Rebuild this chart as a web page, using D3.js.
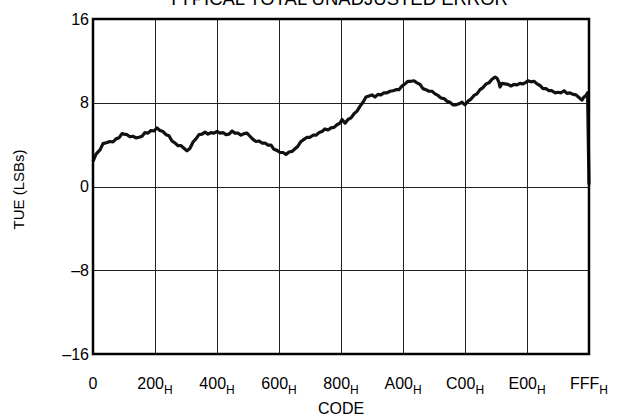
<!DOCTYPE html>
<html>
<head>
<meta charset="utf-8">
<script src="https://cdn.jsdelivr.net/npm/d3@7"></script>
<style>
  html, body { margin: 0; padding: 0; background: #fff; }
  svg { display: block; font-family: "Liberation Sans", Arial, sans-serif; }
</style>
</head>
<body>
<svg id="chart" width="631" height="420"></svg>
<script>
// Code values (decimal) along the transfer function
const codes = [
  0, 25, 58, 83, 116, 140, 165, 190, 215, 239, 256, 281, 305, 330, 355, 380, 405, 429, 454, 479,
  504, 528, 553, 578, 603, 627, 652, 677, 702, 727, 751, 776, 801, 826, 850, 875, 900, 925, 949, 974,
  999, 1024, 1049, 1073, 1098, 1123, 1148, 1172, 1197, 1222, 1247, 1271, 1296, 1321, 1346, 1371, 1395, 1420, 1445, 1470,
  1494, 1519, 1544, 1569, 1593, 1618, 1643, 1668, 1692, 1717, 1742, 1767, 1792, 1816, 1841, 1866, 1891, 1915, 1940, 1965,
  1990, 2014, 2039, 2056, 2081, 2105, 2130, 2155, 2180, 2204, 2229, 2254, 2279, 2303, 2328, 2353, 2378, 2402, 2427, 2452,
  2477, 2502, 2526, 2551, 2576, 2601, 2625, 2650, 2675, 2700, 2724, 2749, 2774, 2799, 2824, 2848, 2873, 2898, 2923, 2947,
  2972, 2997, 3022, 3046, 3071, 3096, 3121, 3146, 3170, 3195, 3220, 3245, 3269, 3294, 3319, 3335, 3352, 3360, 3377, 3401,
  3426, 3451, 3476, 3501, 3525, 3550, 3575, 3591, 3616, 3641, 3666, 3690, 3715, 3740, 3765, 3789, 3814, 3839, 3864, 3889,
  3913, 3938, 3963, 3988, 4012, 4037, 4054, 4070, 4083, 4095
];

// Total unadjusted error at each code (LSBs)
const tue = [
  2.4, 3.1, 3.5, 4.1, 4.2, 4.3, 4.25, 4.55, 4.65, 5.05, 5.0, 4.95, 4.75, 4.8, 4.65, 4.7, 4.8, 5.15, 5.1, 5.35,
  5.3, 5.6, 5.35, 5.25, 4.95, 4.85, 4.35, 4.15, 3.9, 3.9, 3.65, 3.4, 3.65, 4.25, 4.55, 4.95, 5.0, 5.2, 5.0, 5.15,
  5.1, 5.25, 5.1, 5.15, 4.95, 5.0, 5.3, 5.1, 5.1, 4.9, 5.05, 5.1, 4.8, 4.5, 4.3, 4.35, 4.15, 4.15, 3.95, 3.95,
  3.55, 3.45, 3.25, 3.25, 3.05, 3.3, 3.35, 3.6, 3.85, 4.3, 4.5, 4.7, 4.7, 4.9, 4.9, 5.15, 5.25, 5.5, 5.4, 5.6,
  5.65, 5.9, 6.05, 6.4, 6.05, 6.4, 6.55, 6.95, 7.2, 7.65, 8.05, 8.55, 8.65, 8.75, 8.55, 8.8, 8.75, 8.95, 8.95, 9.1,
  9.15, 9.25, 9.25, 9.6, 9.8, 10.05, 10.05, 10.1, 9.9, 9.75, 9.35, 9.25, 9.1, 9.1, 8.85, 8.7, 8.45, 8.4, 8.15, 8.05,
  7.8, 7.8, 7.9, 8.05, 7.8, 8.15, 8.35, 8.7, 8.85, 9.25, 9.45, 9.8, 9.9, 10.25, 10.45, 10.35, 9.95, 9.5, 9.85, 9.8,
  9.75, 9.6, 9.75, 9.7, 9.85, 9.8, 9.95, 10.1, 10.0, 10.05, 9.8, 9.65, 9.35, 9.35, 9.15, 9.15, 8.95, 9.0, 8.95, 9.15,
  8.9, 8.95, 8.8, 8.75, 8.5, 8.25, 8.55, 8.7, 8.95, 0.2
];

// Axis ticks
const xTickValues = [0, 512, 1024, 1536, 2048, 2560, 3072, 3584, 4095];
const xTickLabels = ["0", "200", "400", "600", "800", "A00", "C00", "E00", "FFF"];
const yTickValues = [-16, -8, 0, 8, 16];
const yTickLabels = ["\u201316", "\u20138", "0", "8", "16"];

const titleText = "TYPICAL TOTAL UNADJUSTED ERROR";
const xTitle = "CODE";
const yTitle = "TUE (LSBs)";

const svg = d3.select("#chart");
const m = { left: 93, right: 589, top: 19, bottom: 354 };

const x = d3.scaleLinear().domain([0, 4095]).range([m.left, m.right]);
const y = d3.scaleLinear().domain([-16, 16]).range([m.bottom, m.top]);

// Grid lines
const grid = svg.append("g").attr("stroke", "#222").attr("stroke-width", 1);
grid.selectAll("line.v").data(xTickValues.slice(1, -1)).join("line")
  .attr("x1", d => Math.round(x(d)) + 0.5).attr("x2", d => Math.round(x(d)) + 0.5)
  .attr("y1", m.top).attr("y2", m.bottom);
grid.selectAll("line.h").data(yTickValues.slice(1, -1)).join("line")
  .attr("x1", m.left).attr("x2", m.right)
  .attr("y1", d => Math.round(y(d)) + 0.5).attr("y2", d => Math.round(y(d)) + 0.5);

// Data trace
const line = d3.line().x((d, i) => x(codes[i])).y(d => y(d)).curve(d3.curveLinear);
svg.append("path")
  .datum(tue)
  .attr("fill", "none")
  .attr("stroke", "#111")
  .attr("stroke-width", 3.2)
  .attr("stroke-linejoin", "round")
  .attr("d", line);

// Frame
svg.append("rect")
  .attr("x", m.left).attr("y", m.top)
  .attr("width", m.right - m.left).attr("height", m.bottom - m.top)
  .attr("fill", "none").attr("stroke", "#000").attr("stroke-width", 2.5);

// Y tick labels
svg.append("g").selectAll("text").data(yTickValues).join("text")
  .attr("x", 89).attr("y", d => y(d))
  .attr("dy", "0.35em")
  .attr("text-anchor", "end")
  .attr("font-size", 16)
  .attr("fill", "#000")
  .text((d, i) => yTickLabels[i]);

// X tick labels with hex subscript
const xl = svg.append("g").selectAll("text").data(xTickValues).join("text")
  .attr("x", d => x(d)).attr("y", 389)
  .attr("text-anchor", "middle")
  .attr("font-size", 16)
  .attr("fill", "#000");
xl.each(function(d, i) {
  const t = d3.select(this);
  t.append("tspan").text(xTickLabels[i]);
  if (i > 0) {
    t.append("tspan").attr("dy", 5).attr("font-size", 12).text("H");
  }
});

// Axis titles
svg.append("text")
  .attr("x", (m.left + m.right) / 2).attr("y", 414)
  .attr("text-anchor", "middle").attr("font-size", 16).attr("fill", "#000")
  .text(xTitle);
svg.append("text")
  .attr("transform", `translate(24, ${(m.top + m.bottom) / 2 + 3}) rotate(-90)`)
  .attr("text-anchor", "middle").attr("font-size", 15).attr("fill", "#000")
  .text(yTitle);

// Chart title (sits at the top edge of the page)
svg.append("text")
  .attr("x", 338).attr("y", 5)
  .attr("text-anchor", "middle").attr("font-size", 18.5).attr("fill", "#000")
  .text(titleText);
</script>
</body>
</html>
